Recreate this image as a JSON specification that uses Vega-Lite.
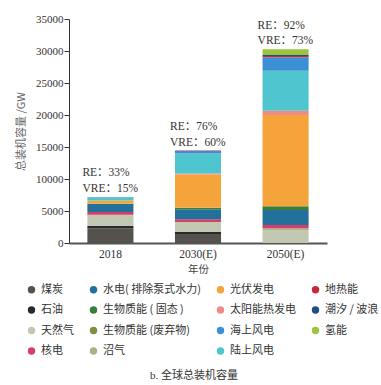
{
  "$schema": "https://vega.github.io/schema/vega-lite/v6.json",
  "width": 258,
  "height": 224,
  "autosize": {"type": "none"},
  "padding": {"left": 69, "top": 19, "right": 54, "bottom": 142},
  "background": "white",
  "config": {
    "font": "Liberation Serif, Noto Sans CJK SC",
    "view": {"stroke": null},
    "axisY": {
      "grid": false,
      "labelOverlap": false,
      "labelFlush": false,
      "labelFontSize": 11,
      "labelColor": "#333333",
      "labelPadding": 1,
      "tickSize": 5,
      "tickColor": "#333333",
      "domainColor": "#333333",
      "titleFont": "Noto Sans CJK SC",
      "titleFontSize": 11,
      "titleFontWeight": "normal",
      "titleColor": "#666666",
      "titlePadding": 9
    }
  },
  "title": {
    "text": "b. 全球总装机容量",
    "orient": "bottom",
    "anchor": "middle",
    "offset": 14,
    "dx": -4,
    "font": "Liberation Serif, Noto Sans CJK SC",
    "fontSize": 11,
    "fontWeight": "normal",
    "color": "#333333"
  },
  "data": {
    "values": [
      {"year": "2018", "k": 1, "type": "煤炭", "value": 2300},
      {"year": "2018", "k": 2, "type": "石油", "value": 380},
      {"year": "2018", "k": 3, "type": "天然气", "value": 1700},
      {"year": "2018", "k": 4, "type": "沼气", "value": 30},
      {"year": "2018", "k": 5, "type": "核电", "value": 420},
      {"year": "2018", "k": 6, "type": "水电( 排除泵式水力)", "value": 1250},
      {"year": "2018", "k": 7, "type": "生物质能 ( 固态 )", "value": 60},
      {"year": "2018", "k": 8, "type": "生物质能 (废弃物)", "value": 10},
      {"year": "2018", "k": 9, "type": "光伏发电", "value": 490},
      {"year": "2018", "k": 10, "type": "太阳能热发电", "value": 5},
      {"year": "2018", "k": 11, "type": "陆上风电", "value": 520},
      {"year": "2018", "k": 12, "type": "海上风电", "value": 25},
      {"year": "2018", "k": 13, "type": "地热能", "value": 14},
      {"year": "2018", "k": 14, "type": "潮汐 / 波浪", "value": 1},
      {"year": "2018", "k": 15, "type": "氢能", "value": 0},
      {"year": "2030(E)", "k": 1, "type": "煤炭", "value": 1400},
      {"year": "2030(E)", "k": 2, "type": "石油", "value": 300},
      {"year": "2030(E)", "k": 3, "type": "天然气", "value": 1500},
      {"year": "2030(E)", "k": 4, "type": "沼气", "value": 80},
      {"year": "2030(E)", "k": 5, "type": "核电", "value": 420},
      {"year": "2030(E)", "k": 6, "type": "水电( 排除泵式水力)", "value": 1560},
      {"year": "2030(E)", "k": 7, "type": "生物质能 ( 固态 )", "value": 200},
      {"year": "2030(E)", "k": 8, "type": "生物质能 (废弃物)", "value": 40},
      {"year": "2030(E)", "k": 9, "type": "光伏发电", "value": 5200},
      {"year": "2030(E)", "k": 10, "type": "太阳能热发电", "value": 150},
      {"year": "2030(E)", "k": 11, "type": "陆上风电", "value": 3150},
      {"year": "2030(E)", "k": 12, "type": "海上风电", "value": 360},
      {"year": "2030(E)", "k": 13, "type": "地热能", "value": 80},
      {"year": "2030(E)", "k": 14, "type": "潮汐 / 波浪", "value": 10},
      {"year": "2030(E)", "k": 15, "type": "氢能", "value": 0},
      {"year": "2050(E)", "k": 1, "type": "煤炭", "value": 0},
      {"year": "2050(E)", "k": 2, "type": "石油", "value": 0},
      {"year": "2050(E)", "k": 3, "type": "天然气", "value": 2000},
      {"year": "2050(E)", "k": 4, "type": "沼气", "value": 290},
      {"year": "2050(E)", "k": 5, "type": "核电", "value": 520},
      {"year": "2050(E)", "k": 6, "type": "水电( 排除泵式水力)", "value": 2350},
      {"year": "2050(E)", "k": 7, "type": "生物质能 ( 固态 )", "value": 500},
      {"year": "2050(E)", "k": 8, "type": "生物质能 (废弃物)", "value": 120},
      {"year": "2050(E)", "k": 9, "type": "光伏发电", "value": 14220},
      {"year": "2050(E)", "k": 10, "type": "太阳能热发电", "value": 670},
      {"year": "2050(E)", "k": 11, "type": "陆上风电", "value": 6250},
      {"year": "2050(E)", "k": 12, "type": "海上风电", "value": 2100},
      {"year": "2050(E)", "k": 13, "type": "地热能", "value": 200},
      {"year": "2050(E)", "k": 14, "type": "潮汐 / 波浪", "value": 155},
      {"year": "2050(E)", "k": 15, "type": "氢能", "value": 895}
    ]
  },
  "layer": [
    {
      "mark": {"type": "bar"},
      "encoding": {
        "x": {
          "field": "year",
          "type": "nominal",
          "sort": ["2018", "2030(E)", "2050(E)"],
          "scale": {"paddingInner": 0.474, "paddingOuter": 0.21},
          "axis": {
            "labelAngle": 0,
            "labelFontSize": 11.5,
            "labelColor": "#333333",
            "labelPadding": 5,
            "ticks": false,
            "domainWidth": 2,
            "domainColor": "#555555",
            "title": "年份",
            "titleFont": "Noto Sans CJK SC",
            "titleFontSize": 10.5,
            "titleFontWeight": "normal",
            "titleColor": "#444444",
            "titlePadding": 5
          }
        },
        "y": {
          "aggregate": "sum",
          "field": "value",
          "type": "quantitative",
          "stack": "zero",
          "scale": {"domain": [0, 35000], "nice": false},
          "axis": {
            "values": [0, 5000, 10000, 15000, 20000, 25000, 30000, 35000],
            "format": "d",
            "title": "总装机容量 /GW"
          }
        },
        "color": {
          "field": "type",
          "type": "nominal",
          "scale": {
            "domain": ["煤炭", "石油", "天然气", "核电", "水电( 排除泵式水力)", "生物质能 ( 固态 )", "生物质能 (废弃物)", "沼气", "光伏发电", "太阳能热发电", "海上风电", "陆上风电", "地热能", "潮汐 / 波浪", "氢能"],
            "range": ["#55524e", "#2a2a2a", "#c2c7b2", "#d63c6c", "#23709a", "#3d7d3a", "#7c8f45", "#a8b482", "#f4a43a", "#f08a84", "#3a8fd5", "#4fc5cf", "#c8283c", "#1f4e85", "#9cc53c"]
          },
          "legend": {
            "orient": "none",
            "legendX": -43,
            "legendY": 265,
            "columns": 4,
            "title": null,
            "symbolType": "circle",
            "symbolSize": 55,
            "symbolStrokeWidth": 0,
            "labelFont": "Noto Sans CJK SC",
            "labelFontSize": 11,
            "labelColor": "#333333",
            "labelOffset": 4,
            "rowPadding": 8.5,
            "columnPadding": 14
          }
        },
        "order": {"field": "k", "type": "quantitative"}
      }
    },
    {
      "data": {
        "values": [
          {"year": "2018", "total": 7205, "RE": "RE：33%", "VRE": "VRE：15%"},
          {"year": "2030(E)", "total": 14450, "RE": "RE：76%", "VRE": "VRE：60%"},
          {"year": "2050(E)", "total": 30270, "RE": "RE：92%", "VRE": "VRE：73%"}
        ]
      },
      "mark": {"type": "text", "align": "left", "baseline": "alphabetic", "dx": -28, "dy": -20.5, "fontSize": 11.5, "color": "#333333", "font": "Liberation Serif, Noto Sans CJK SC"},
      "encoding": {
        "x": {"field": "year", "type": "nominal", "sort": ["2018", "2030(E)", "2050(E)"]},
        "y": {
          "field": "total",
          "type": "quantitative",
          "axis": {
            "values": [0, 5000, 10000, 15000, 20000, 25000, 30000, 35000],
            "format": "d",
            "title": "总装机容量 /GW"
          }
        },
        "text": {"field": "RE", "type": "nominal"}
      }
    },
    {
      "data": {
        "values": [
          {"year": "2018", "total": 7205, "RE": "RE：33%", "VRE": "VRE：15%"},
          {"year": "2030(E)", "total": 14450, "RE": "RE：76%", "VRE": "VRE：60%"},
          {"year": "2050(E)", "total": 30270, "RE": "RE：92%", "VRE": "VRE：73%"}
        ]
      },
      "mark": {"type": "text", "align": "left", "baseline": "alphabetic", "dx": -28, "dy": -5, "fontSize": 11.5, "color": "#333333", "font": "Liberation Serif, Noto Sans CJK SC"},
      "encoding": {
        "x": {"field": "year", "type": "nominal", "sort": ["2018", "2030(E)", "2050(E)"]},
        "y": {
          "field": "total",
          "type": "quantitative",
          "axis": {
            "values": [0, 5000, 10000, 15000, 20000, 25000, 30000, 35000],
            "format": "d",
            "title": "总装机容量 /GW"
          }
        },
        "text": {"field": "VRE", "type": "nominal"}
      }
    }
  ]
}
